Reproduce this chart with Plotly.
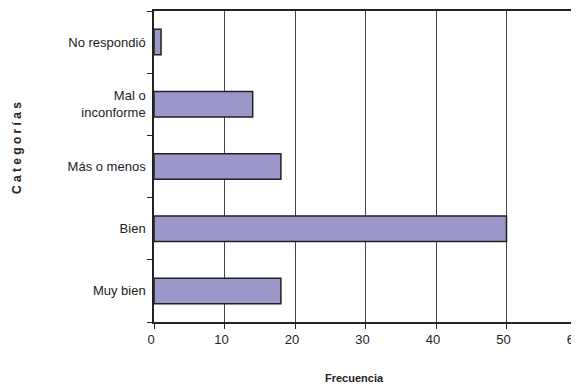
import plotly.graph_objects as go

categories = ["Muy bien", "Bien", "Más o menos", "Mal o<br>inconforme", "No respondió"]
values = [18, 50, 18, 14, 1]
x_ticks = [0, 10, 20, 30, 40, 50, 60]

fig = go.Figure(go.Bar(
    x=values, y=categories, orientation="h",
    marker=dict(color="#9b97c9", line=dict(color="#222222", width=1.5)),
))

# page body has an 8px margin, so margins compensate for the offset
fig.update_layout(
    template="none",
    width=579, height=385,
    margin=dict(l=146, r=10, t=3, b=71, autoexpand=False),
    paper_bgcolor="white", plot_bgcolor="white",
    bargap=0.59,
    showlegend=False,
    font=dict(family="Liberation Sans, Arial, sans-serif", size=13, color="#222222"),
)
fig.update_xaxes(
    range=[0, 60], tickvals=x_ticks, ticktext=[str(t) for t in x_ticks],
    automargin=False, ticklabeloverflow="allow", ticklabelshift=-3,
    showgrid=True, gridcolor="#444444", gridwidth=1,
    showline=True, linecolor="#222222", linewidth=1.5, mirror=True,
    ticks="outside", ticklen=5, tickcolor="#222222",
    zeroline=False,
)
fig.update_yaxes(
    type="category", categoryorder="array", categoryarray=categories,
    automargin=False, ticklabelstandoff=4,
    showgrid=False, tickson="boundaries",
    showline=True, linecolor="#222222", linewidth=1.5, mirror=True,
    ticks="outside", ticklen=5, tickcolor="#222222",
)
fig.add_annotation(
    text="<b>Frecuencia</b>", xref="paper", yref="paper",
    x=0.473, y=-0.18, yanchor="middle", showarrow=False,
    font=dict(size=11, color="#222222"),
)
fig.add_annotation(
    text="<b>C a t e g o r í a s</b>", xref="paper", yref="paper",
    x=-0.324, y=0.559, xanchor="center", yanchor="middle", textangle=-90, showarrow=False,
    font=dict(size=12, color="#222222"),
)
fig.write_html("out.html")
